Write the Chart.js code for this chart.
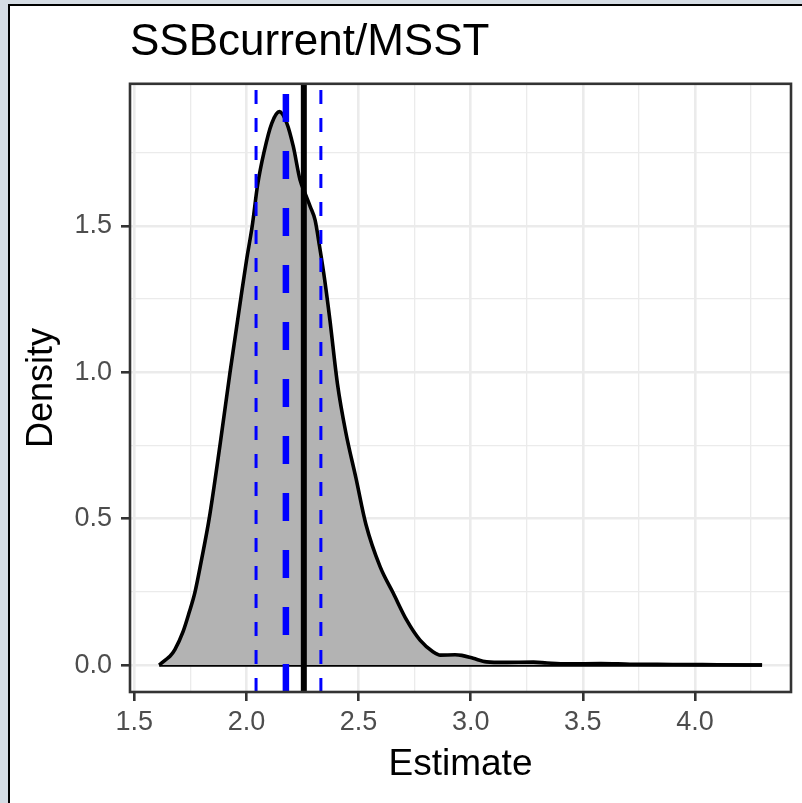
<!DOCTYPE html>
<html lang="en">
<head>
<meta charset="UTF-8">
<title>SSBcurrent/MSST</title>
<script src="https://cdn.jsdelivr.net/npm/chart.js"></script>
<style>
  html, body { margin: 0; overflow: hidden; background: #d5dce4; }
  #frame {
    position: absolute; left: 8px; top: 4px; width: 800px; height: 805px;
    background: #fff; border-left: 2px solid #000; border-top: 2px solid #000;
  }
  #densityChart { position: absolute; left: 0; top: 0; }
</style>
</head>
<body>
<div id="frame"></div>
<canvas id="densityChart" width="802" height="803"></canvas>
<script>
// density of the SSBcurrent/MSST estimate
const densX = [1.611, 1.638, 1.659, 1.681, 1.718, 1.745, 1.771, 1.80, 1.834, 1.882,
               1.927, 1.974, 2.0, 2.026, 2.05, 2.078, 2.113, 2.147, 2.18, 2.209,
               2.239, 2.262, 2.285, 2.306, 2.326, 2.35, 2.372, 2.406, 2.443, 2.488,
               2.533, 2.596, 2.655, 2.714, 2.774, 2.833, 2.865, 2.93, 2.96, 3.011,
               3.071, 3.15, 3.28, 3.34, 3.43, 3.58, 3.71, 3.9, 4.1, 4.299];
const densY = [0, 0.017, 0.03, 0.053, 0.115, 0.18, 0.25, 0.36, 0.5, 0.75,
               1.0, 1.247, 1.38, 1.5, 1.64, 1.75, 1.85, 1.89, 1.851, 1.771,
               1.657, 1.61, 1.565, 1.52, 1.43, 1.31, 1.18, 0.96, 0.795, 0.64,
               0.48, 0.336, 0.245, 0.154, 0.085, 0.045, 0.034, 0.035, 0.033, 0.023,
               0.011, 0.009, 0.01, 0.007, 0.004, 0.005, 0.003, 0.002, 0.001, 0];

// reference lines
const ciBounds = [2.043, 2.332];   // thin dashed blue
const medianEst = 2.176;           // thick dashed blue
const pointEst = 2.256;            // solid black

// axes
const xRange = [1.481, 4.428];
const yRange = [-0.092, 1.985];
const xMajor = [1.5, 2.0, 2.5, 3.0, 3.5, 4.0];
const xMinor = [1.75, 2.25, 2.75, 3.25, 3.75, 4.25];
const yMajor = [0, 0.5, 1.0, 1.5];
const yMinor = [0.25, 0.75, 1.25, 1.75];

const FONT = '"Liberation Sans", Arial, sans-serif';

function vline(x, color, width, dash) {
  return {
    data: [{x: x, y: yRange[0]}, {x: x, y: yRange[1]}],
    borderColor: color,
    borderWidth: width,
    borderDash: dash,
    pointRadius: 0,
    fill: false,
    order: 0
  };
}

const panelBorder = {
  id: 'panelBorder',
  afterDraw(chart) {
    const {ctx, chartArea: a} = chart;
    ctx.save();
    ctx.strokeStyle = '#333333';
    ctx.lineWidth = 2.6;
    ctx.strokeRect(a.left, a.top, a.right - a.left, a.bottom - a.top);
    ctx.restore();
  }
};

function axisOpts(range, major, minor) {
  const all = major.concat(minor).sort((a, b) => a - b);
  return {
    type: 'linear',
    min: range[0],
    max: range[1],
    afterBuildTicks: s => { s.ticks = all.map(v => ({value: v})); },
    ticks: {
      autoSkip: false,
      maxRotation: 0,
      color: '#4d4d4d',
      font: {family: FONT, size: 27},
      callback: v => major.includes(v) ? v.toFixed(1) : ''
    },
    grid: {
      color: '#ebebeb',
      lineWidth: c => major.includes(c.tick.value) ? 2.6 : 1.3,
      tickColor: c => major.includes(c.tick.value) ? '#333333' : 'rgba(0,0,0,0)',
      tickWidth: 2.6,
      tickLength: 9
    },
    border: {display: false}
  };
}

const xAxis = axisOpts(xRange, xMajor, xMinor);
xAxis.ticks.padding = 5;
xAxis.afterFit = s => { s.height = 111; };
xAxis.title = {display: true, text: 'Estimate', color: '#000',
               font: {family: FONT, size: 37}, padding: {top: 0, bottom: 16}};

const yAxis = axisOpts(yRange, yMajor, yMinor);
yAxis.ticks.padding = 9;
yAxis.afterFit = s => { s.width = 130; };
yAxis.title = {display: true, text: 'Density', color: '#000',
               font: {family: FONT, size: 36}, padding: {top: 20, bottom: 0}};

new Chart(document.getElementById('densityChart'), {
  type: 'line',
  data: {
    datasets: [
      {
        data: densX.map((x, i) => ({x: x, y: densY[i]})),
        borderColor: '#000',
        borderWidth: 3.6,
        backgroundColor: '#b3b3b3',
        fill: 'origin',
        pointRadius: 0,
        cubicInterpolationMode: 'monotone',
        order: 1
      },
      {
        // closing edge along zero
        data: [{x: densX[0], y: 0}, {x: densX[densX.length - 1], y: 0}],
        borderColor: '#000',
        borderWidth: 3.6,
        pointRadius: 0,
        fill: false,
        order: 1
      },
      vline(ciBounds[0], '#0000ff', 3, [14, 14]),
      vline(ciBounds[1], '#0000ff', 3, [14, 14]),
      vline(medianEst, '#0000ff', 6.5, [28, 29]),
      vline(pointEst, '#000000', 6, [])
    ]
  },
  options: {
    responsive: false,
    animation: false,
    layout: {padding: {left: 0, right: 11, top: 0, bottom: 0}},
    plugins: {
      legend: {display: false},
      tooltip: {enabled: false},
      title: {
        display: true,
        text: 'SSBcurrent/MSST',
        align: 'start',
        fullSize: false,
        color: '#000',
        font: {family: FONT, size: 44, weight: 'normal'},
        padding: {top: 16, bottom: 15}
      }
    },
    scales: {x: xAxis, y: yAxis}
  },
  plugins: [panelBorder]
});
</script>
</body>
</html>
